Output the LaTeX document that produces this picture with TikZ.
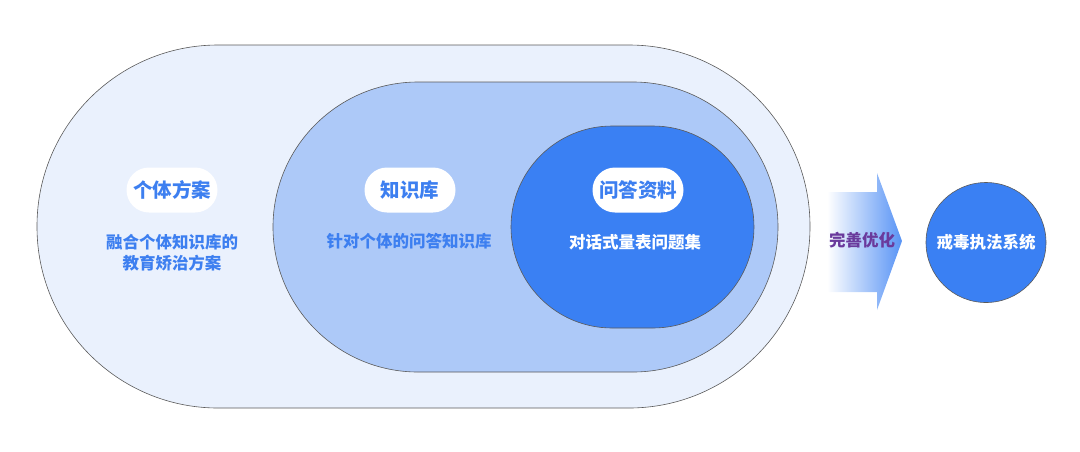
\documentclass[tikz,border=0pt]{standalone}
\usepackage{fontspec}
\IfFontExistsTF{Noto Sans CJK SC Black}
  {\setmainfont{Noto Sans CJK SC}[BoldFont={Noto Sans CJK SC Black}]}
  {\setmainfont{Noto Sans CJK SC}}
\usetikzlibrary{positioning}
\definecolor{outerfill}{HTML}{EAF1FD}
\definecolor{midfill}{HTML}{ADC9F8}
\definecolor{deepblue}{HTML}{3A80F3}
\definecolor{textblue}{HTML}{3D7FF0}
\definecolor{optpurple}{HTML}{6A3A9C}
\definecolor{rimgray}{HTML}{5A5A5A}
\tikzset{
    ring/.style={shape=rectangle,draw=rimgray,line width=0.6pt,inner sep=0pt},
    pill/.style={shape=rectangle,fill=white,rounded corners=22.5pt,minimum width=91pt,minimum height=45pt,inner sep=0pt,font=\fontsize{19.5}{21}\selectfont\bfseries,text=textblue},
    note/.style={font=\fontsize{16.5}{21}\selectfont\bfseries,align=center}
}
\begin{document}
\begin{tikzpicture}[x=1pt,y=-1pt]
    \useasboundingbox (0,0) rectangle (1080,451);

    \node[ring,fill=outerfill,rounded corners=181pt,minimum width=773pt,minimum height=363pt] (plan) at (423.5,226.5) {};
    \node[ring,fill=midfill,rounded corners=145pt,minimum width=505pt,minimum height=290pt] (kb) at (525.5,227) {};
    \node[ring,fill=deepblue,rounded corners=101pt,minimum width=243pt,minimum height=202pt] (qa) at (632.5,227) {};

    \node[pill] (plan_tag) at (172,190) {个体方案};
    \node[note,text=textblue] (plan_note) at (172,252.5) {融合个体知识库的\\教育矫治方案};

    \node[pill] (kb_tag) at (410,190) {知识库};
    \node[note,text=textblue] (kb_note) at (409,241.5) {针对个体的问答知识库};

    \node[pill] (qa_tag) at (638,190) {问答资料};
    \node[note,text=white] (qa_note) at (635,242.5) {对话式量表问题集};

    \shade[left color=white,right color=deepblue!85] (827,192) -- (877,192) -- (877,173) -- (902,241) -- (877,310) -- (877,292) -- (827,292) -- cycle;
    \node[note,text=optpurple] (refine) at (862,240) {完善优化};

    \node[shape=circle,draw=rimgray,line width=0.6pt,fill=deepblue,minimum size=120pt,inner sep=0pt,note,text=white] (system) at (986,242.5) {戒毒执法系统};
\end{tikzpicture}
\end{document}
